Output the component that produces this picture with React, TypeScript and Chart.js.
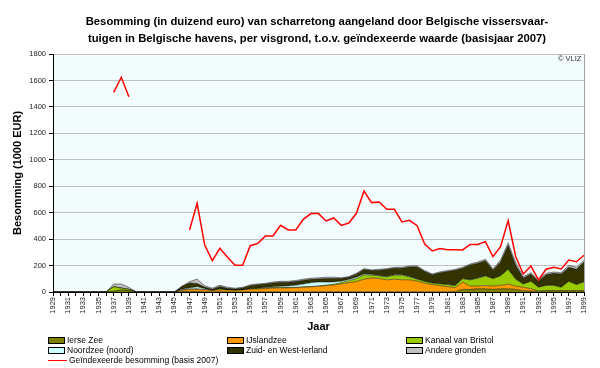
import React, { useEffect, useRef } from "react";
import { Chart, registerables } from "chart.js";
Chart.register(...registerables);

const years = [
  "1929","1930","1931","1932","1933","1934","1935","1936","1937","1938",
  "1939","1940","1941","1942","1943","1944","1945","1946","1947","1948",
  "1949","1950","1951","1952","1953","1954","1955","1956","1957","1958",
  "1959","1960","1961","1962","1963","1964","1965","1966","1967","1968",
  "1969","1970","1971","1972","1973","1974","1975","1976","1977","1978",
  "1979","1980","1981","1982","1983","1984","1985","1986","1987","1988",
  "1989","1990","1991","1992","1993","1994","1995","1996","1997","1998",
  "1999",
];

const ierseZee = [
  0,0,0,0,0,0,0,0,5,15,
  10,0,0,0,0,0,0,3,3,5,
  2,1,2,1,1,1,1,1,1,1,
  1,1,1,1,1,1,1,1,1,1,
  1,1,1,1,1,1,1,1,1,1,
  1,1,1,3,20,20,25,25,20,25,
  25,20,10,8,5,8,8,8,8,8,
  8,
];
const ijslandzee = [
  0,0,0,0,0,0,0,0,0,0,
  0,0,0,0,0,0,0,10,15,15,
  15,10,15,15,12,15,20,22,25,28,
  30,30,32,35,38,42,48,52,60,70,
  78,96,106,101,91,96,91,91,81,66,
  55,48,40,30,55,25,20,25,25,25,
  35,25,25,17,3,2,2,2,2,2,
  2,
];
const kanaalVanBristol = [
  0,0,0,0,0,0,0,0,35,15,
  10,0,0,0,0,0,0,3,5,5,
  0,0,8,0,0,0,3,5,5,5,
  5,3,3,3,3,3,3,5,11,15,
  23,33,20,20,22,30,35,22,15,12,
  11,12,15,15,25,46,58,71,56,71,
  111,51,25,56,27,40,40,25,71,45,
  66,
];
const noordzeeNoord = [
  0,0,0,0,0,0,0,0,0,0,
  0,0,0,0,0,0,0,5,7,15,
  8,0,0,0,0,0,0,0,3,5,
  8,12,15,22,28,30,23,18,10,8,
  10,7,5,3,3,3,3,3,2,2,
  2,2,2,2,2,2,2,2,2,2,
  2,2,1,1,1,1,1,1,1,1,
  1,
];
const zuidWestIerland = [
  0,0,0,0,0,0,0,0,0,0,
  0,0,0,0,0,0,0,20,38,25,
  12,10,17,12,10,14,24,27,26,30,
  30,28,28,28,26,23,27,26,20,18,
  23,33,30,40,53,50,50,73,91,74,
  61,82,97,114,78,112,112,114,63,104,
  180,104,45,54,45,80,90,100,105,116,
  150,
];
const andereGronden = [
  0,0,0,0,0,0,0,0,20,30,
  15,0,0,0,0,0,0,4,10,33,
  10,8,10,8,6,6,6,6,6,7,
  7,7,8,8,8,8,10,10,5,5,
  7,7,5,7,7,7,7,7,7,7,
  7,7,7,7,7,7,10,10,10,15,
  20,20,10,10,10,10,10,10,15,15,
  15,
];
const geindexeerd = [
  null,null,null,null,null,null,null,null,1510,1624,
  1477,null,null,null,null,null,null,null,469,671,
  355,237,330,262,202,202,350,368,424,424,
  504,469,469,550,593,593,537,560,504,522,
  595,764,676,681,625,625,530,542,502,363,
  310,328,320,320,318,360,360,381,267,343,
  540,267,136,197,91,172,187,174,242,229,
  278,
];

const areaSeries = [
  { label: "Ierse Zee", data: ierseZee, color: "#808000" },
  { label: "IJslandzee", data: ijslandzee, color: "#FF9900" },
  { label: "Kanaal van Bristol", data: kanaalVanBristol, color: "#99CC00" },
  { label: "Noordzee (noord)", data: noordzeeNoord, color: "#CCFFFF" },
  { label: "Zuid- en West-Ierland", data: zuidWestIerland, color: "#333300" },
  { label: "Andere gronden", data: andereGronden, color: "#C0C0C0" },
];
const lineLabel = "Geïndexeerde besomming (basis 2007)";

const plotDecor = {
  id: "plotDecor",
  beforeDraw(chart: any) {
    const { ctx, chartArea: a } = chart;
    ctx.save();
    ctx.fillStyle = "#F2FCFC";
    ctx.fillRect(a.left, a.top, a.right - a.left, a.bottom - a.top);
    ctx.restore();
  },
  afterDraw(chart: any) {
    const { ctx, chartArea: a } = chart;
    ctx.save();
    ctx.strokeStyle = "#A0A0A0";
    ctx.lineWidth = 1;
    ctx.beginPath();
    ctx.moveTo(Math.round(a.right) + 0.5, a.top);
    ctx.lineTo(Math.round(a.right) + 0.5, a.bottom);
    ctx.stroke();
    ctx.restore();
  },
};

export default function App() {
  const ref = useRef<HTMLCanvasElement>(null);
  useEffect(() => {
    const datasets: any[] = areaSeries.map((s, i) => ({
      type: "line",
      label: s.label,
      data: s.data,
      backgroundColor: s.color,
      borderColor: "rgba(0,0,0,0.75)",
      borderWidth: 0.6,
      fill: i === 0 ? "origin" : "-1",
      pointRadius: 0,
      tension: 0,
      stack: "areas",
      order: 2,
    }));
    datasets.push({
      type: "line",
      label: lineLabel,
      data: geindexeerd,
      borderColor: "#FF0000",
      backgroundColor: "#FF0000",
      borderWidth: 1.5,
      fill: false,
      pointRadius: 0,
      tension: 0,
      spanGaps: false,
      stack: "line",
      order: 1,
    });
    const chart = new Chart(ref.current!, {
      type: "line",
      data: { labels: years, datasets },
      plugins: [plotDecor],
      options: {
        animation: false,
        responsive: false,
        devicePixelRatio: 1,
        layout: { padding: { top: 54, left: 0, right: 16, bottom: 30 } },
        plugins: {
          legend: { display: false },
          tooltip: { enabled: false },
          title: { display: false },
        },
        scales: {
          x: {
            type: "category",
            offset: false,
            grid: { display: true, drawOnChartArea: false, tickLength: 4, tickColor: "#000" },
            border: { color: "#000", width: 1 },
            ticks: {
              autoSkip: false,
              maxRotation: 90,
              minRotation: 90,
              padding: 1,
              color: "#222",
              font: { family: "Liberation Sans", size: 7.5 },
              callback: (_v: any, i: number) => (i % 2 === 0 ? years[i] : ""),
            },
            title: {
              display: true,
              text: "Jaar",
              color: "#000",
              font: { family: "Liberation Sans", size: 11, weight: "bold" },
              padding: { top: 0, bottom: 4 },
            },
            afterFit: (s: any) => { s.height = 46; },
          },
          y: {
            stacked: true,
            min: 0,
            max: 1800,
            ticks: {
              stepSize: 200,
              color: "#222",
              padding: 3,
              font: { family: "Liberation Sans", size: 7.5 },
              callback: (v: any) => String(v),
            },
            grid: { color: "#C0C0C0", tickLength: 4, tickColor: "#000" },
            border: { color: "#000", width: 1 },
            title: {
              display: true,
              text: "Besomming (1000 EUR)",
              color: "#000",
              font: { family: "Liberation Sans", size: 11, weight: "bold" },
              padding: { top: 11, bottom: 0 },
            },
            afterFit: (s: any) => { s.width = 53; },
          },
        },
      } as any,
    });
    return () => chart.destroy();
  }, []);

  const legendItems: any[] = [
    ...areaSeries.map((s) => ({ label: s.label, color: s.color, line: false })),
    { label: lineLabel, color: "#FF0000", line: true },
  ];
  const cols = [48, 227, 406];
  const rows = [335, 345, 355];

  return (
    <div style={{ position: "fixed", left: 0, top: 0, width: 600, height: 368, background: "#fff", overflow: "hidden" }}>
      <canvas ref={ref} width={600} height={368} style={{ position: "absolute", left: 0, top: 0 }} />
      <div style={{ position: "absolute", left: 0, top: 13, width: 634, textAlign: "center", fontFamily: "Liberation Sans", fontWeight: "bold", fontSize: 11.3, lineHeight: "17px", color: "#000" }}>
        Besomming (in duizend euro) van scharretong aangeland door Belgische vissersvaar-
        <br />
        tuigen in Belgische havens, per visgrond, t.o.v. geïndexeerde waarde (basisjaar 2007)
      </div>
      <div style={{ position: "absolute", left: 558, top: 54, fontFamily: "Liberation Sans", fontSize: 7.5, color: "#333" }}>© VLIZ</div>
      {legendItems.map((it, i) => {
        const c = cols[i % 3];
        const r = rows[Math.floor(i / 3)];
        return (
          <div key={i} style={{ position: "absolute", left: c, top: r, height: 10, display: "flex", alignItems: "center", fontFamily: "Liberation Sans", fontSize: 8.5, color: "#000", whiteSpace: "nowrap" }}>
            {it.line ? (
              <span style={{ display: "inline-block", width: 19, height: 0, borderTop: "1.5px solid #FF0000", marginRight: 2 }} />
            ) : (
              <span style={{ display: "inline-block", width: 17, height: 7, background: it.color, border: "1px solid #000", marginRight: 2, boxSizing: "border-box" }} />
            )}
            <span>{it.label}</span>
          </div>
        );
      })}
    </div>
  );
}
